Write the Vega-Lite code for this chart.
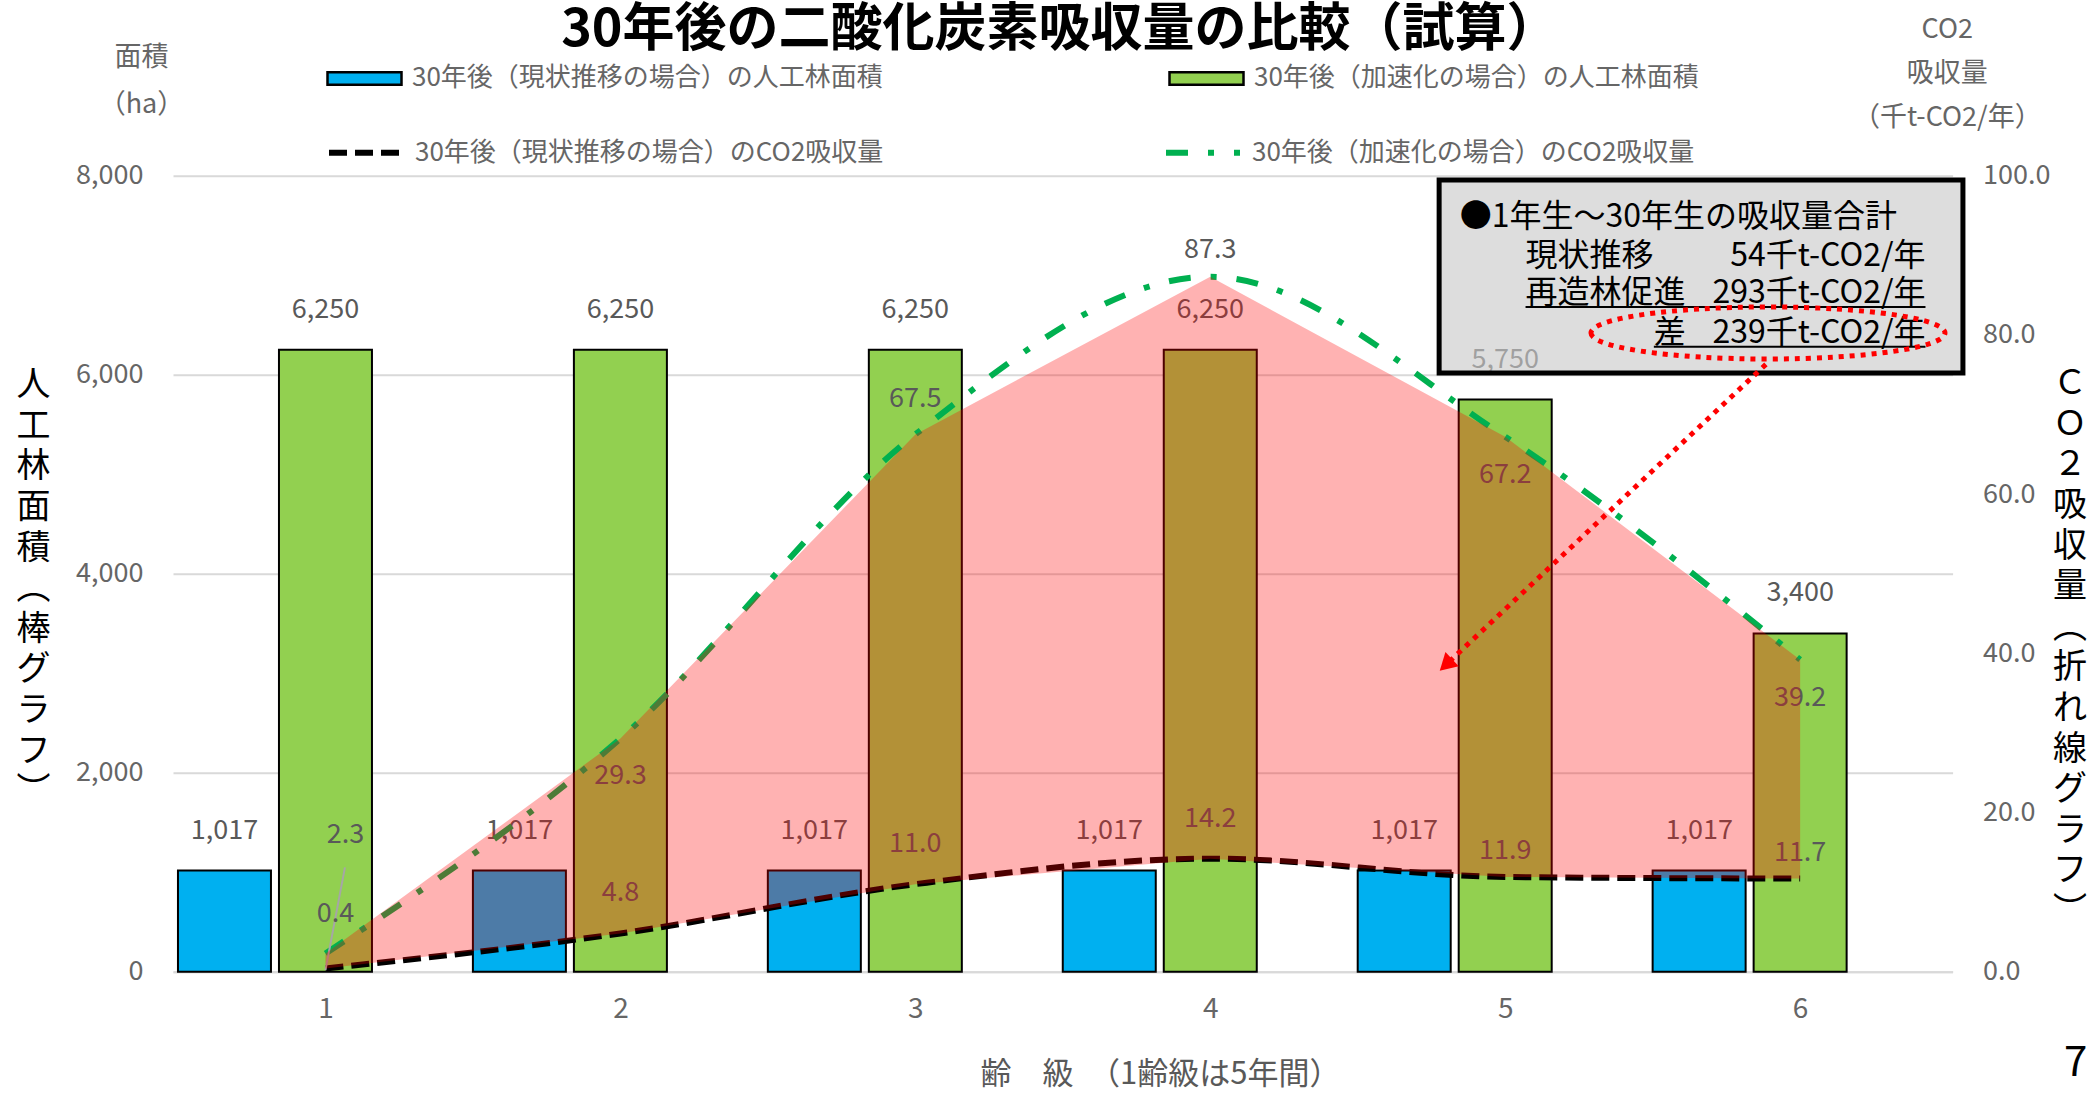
{
  "$schema": "https://vega.github.io/schema/vega-lite/v6.json",
  "width": 1779.6,
  "height": 796,
  "autosize": "none",
  "padding": {"left": 173, "top": 175.7, "right": 141.4, "bottom": 123.3},
  "datasets": {
    "ha": [
      {"cls": 1, "series": "30年後（現状推移の場合）の人工林面積", "ha": 1017},
      {"cls": 2, "series": "30年後（現状推移の場合）の人工林面積", "ha": 1017},
      {"cls": 3, "series": "30年後（現状推移の場合）の人工林面積", "ha": 1017},
      {"cls": 4, "series": "30年後（現状推移の場合）の人工林面積", "ha": 1017},
      {"cls": 5, "series": "30年後（現状推移の場合）の人工林面積", "ha": 1017},
      {"cls": 6, "series": "30年後（現状推移の場合）の人工林面積", "ha": 1017},
      {"cls": 1, "series": "30年後（加速化の場合）の人工林面積", "ha": 6250},
      {"cls": 2, "series": "30年後（加速化の場合）の人工林面積", "ha": 6250},
      {"cls": 3, "series": "30年後（加速化の場合）の人工林面積", "ha": 6250},
      {"cls": 4, "series": "30年後（加速化の場合）の人工林面積", "ha": 6250},
      {"cls": 5, "series": "30年後（加速化の場合）の人工林面積", "ha": 5750},
      {"cls": 6, "series": "30年後（加速化の場合）の人工林面積", "ha": 3400}
    ],
    "co2": [
      {"cls": 1, "cur": 0.4, "acc": 2.3},
      {"cls": 2, "cur": 4.8, "acc": 29.3},
      {"cls": 3, "cur": 11.0, "acc": 67.5},
      {"cls": 4, "cur": 14.2, "acc": 87.3},
      {"cls": 5, "cur": 11.9, "acc": 67.2},
      {"cls": 6, "cur": 11.7, "acc": 39.2}
    ],
    "one": [{}]
  },
  "layer": [
    {
      "layer": [
        {
          "data": {"name": "ha"},
          "transform": [{"filter": "datum.series === '30年後（現状推移の場合）の人工林面積'"}],
          "mark": {"type": "bar", "width": 93, "xOffset": -101, "stroke": "#000000", "strokeWidth": 2},
          "encoding": {
            "x": {
              "field": "cls", "type": "quantitative",
              "scale": {"domain": [0.5, 6.5], "nice": false, "zero": false},
              "axis": {
                "values": [1, 2, 3, 4, 5, 6], "format": "d",
                "labelFontSize": 28, "labelColor": "#666666", "labelPadding": 24,
                "domain": true, "domainColor": "#D9D9D9", "domainWidth": 2,
                "ticks": false, "grid": false,
                "title": "齢　級　（1齢級は5年間）",
                "titleFontSize": 31, "titleColor": "#595959", "titleFontWeight": "normal",
                "titleX": 987, "titleY": 103, "titleAlign": "center", "titleBaseline": "middle"
              }
            },
            "y": {
              "field": "ha", "type": "quantitative",
              "scale": {"domain": [0, 8000], "nice": false},
              "axis": {
                "orient": "left", "values": [0, 2000, 4000, 6000, 8000], "format": ",.0f",
                "grid": true, "gridColor": "#D9D9D9", "gridWidth": 2,
                "domain": false, "ticks": false,
                "labelFontSize": 27, "labelColor": "#666666", "labelPadding": 30,
                "title": ["人", "工", "林", "面", "積", "︵", "棒", "グ", "ラ", "フ", "︶"],
                "titleAngle": 0, "titleFontSize": 34, "titleLineHeight": 40.6,
                "titleColor": "#000000", "titleFontWeight": "normal",
                "titleX": -140, "titleY": 210, "titleAlign": "center", "titleBaseline": "middle"
              }
            },
            "fill": {
              "field": "series", "type": "nominal",
              "scale": {
                "domain": ["30年後（現状推移の場合）の人工林面積", "30年後（加速化の場合）の人工林面積"],
                "range": ["#00B0F0", "#92D050"]
              },
              "legend": {
                "orient": "none", "legendX": 153, "legendY": -136,
                "direction": "horizontal", "columns": 2, "columnPadding": 281,
                "symbolType": "M-1,-0.17H1V0.17H-1Z", "symbolSize": 5476,
                "symbolStrokeColor": "#000000", "symbolStrokeWidth": 2.5,
                "labelFontSize": 26, "labelColor": "#666666", "labelOffset": 9,
                "labelLimit": 800, "title": null, "padding": 0
              }
            }
          }
        },
        {
          "data": {"name": "ha"},
          "transform": [{"filter": "datum.series === '30年後（加速化の場合）の人工林面積'"}],
          "mark": {"type": "bar", "width": 93, "stroke": "#000000", "strokeWidth": 2},
          "encoding": {
            "x": {"field": "cls", "type": "quantitative"},
            "y": {"field": "ha", "type": "quantitative"},
            "fill": {"field": "series", "type": "nominal"}
          }
        },
        {
          "data": {"name": "ha"},
          "transform": [{"filter": "datum.series === '30年後（現状推移の場合）の人工林面積'"}],
          "mark": {"type": "text", "xOffset": -101, "dy": -40, "fontSize": 27, "color": "#595959", "baseline": "middle"},
          "encoding": {
            "x": {"field": "cls", "type": "quantitative"},
            "y": {"field": "ha", "type": "quantitative"},
            "text": {"field": "ha", "type": "quantitative", "format": ","}
          }
        },
        {
          "data": {"name": "ha"},
          "transform": [{"filter": "datum.series === '30年後（加速化の場合）の人工林面積'"}],
          "mark": {"type": "text", "dy": -40, "fontSize": 27, "color": "#595959", "baseline": "middle"},
          "encoding": {
            "x": {"field": "cls", "type": "quantitative"},
            "y": {"field": "ha", "type": "quantitative"},
            "text": {"field": "ha", "type": "quantitative", "format": ","}
          }
        },
        {
          "data": {"name": "one"},
          "mark": {"type": "text", "text": ["面積", "（ha）"], "lineHeight": 47, "fontSize": 27, "color": "#666666", "align": "center", "baseline": "middle"},
          "encoding": {
            "x": {"datum": 0.376, "type": "quantitative"},
            "y": {"datum": 9183, "type": "quantitative"}
          }
        }
      ]
    },
    {
      "layer": [
        {
          "data": {"name": "co2"},
          "mark": {"type": "line", "interpolate": "monotone", "strokeWidth": 6, "strokeCap": "butt"},
          "encoding": {
            "x": {"field": "cls", "type": "quantitative"},
            "y": {
              "field": "cur", "type": "quantitative",
              "scale": {"domain": [0, 100], "nice": false},
              "axis": {
                "orient": "right", "values": [0, 20, 40, 60, 80, 100], "format": ".1f",
                "grid": false, "domain": false, "ticks": false,
                "labelFontSize": 27, "labelColor": "#666666", "labelPadding": 30,
                "title": ["Ｃ", "Ｏ", "２", "吸", "収", "量", "︵", "折", "れ", "線", "グ", "ラ", "フ", "︶"],
                "titleAngle": 0, "titleFontSize": 34, "titleLineHeight": 40.6,
                "titleColor": "#000000", "titleFontWeight": "normal",
                "titleX": 117, "titleY": 208, "titleAlign": "center", "titleBaseline": "middle"
              }
            },
            "stroke": {
              "datum": "30年後（現状推移の場合）のCO2吸収量", "type": "nominal",
              "scale": {
                "domain": ["30年後（現状推移の場合）のCO2吸収量", "30年後（加速化の場合）のCO2吸収量"],
                "range": ["#000000", "#00B050"]
              },
              "legend": {
                "orient": "none", "legendX": 153, "legendY": -63,
                "direction": "horizontal", "columns": 2, "columnPadding": 270,
                "symbolType": "stroke", "symbolSize": 5476, "symbolStrokeWidth": 6,
                "labelFontSize": 26, "labelColor": "#666666", "labelOffset": 9,
                "labelLimit": 800, "title": null, "padding": 0
              }
            },
            "strokeDash": {
              "datum": "30年後（現状推移の場合）のCO2吸収量", "type": "nominal",
              "scale": {
                "domain": ["30年後（現状推移の場合）のCO2吸収量", "30年後（加速化の場合）のCO2吸収量"],
                "range": [[18, 8], [22, 20, 6, 20]]
              },
              "legend": {
                "orient": "none", "legendX": 153, "legendY": -63,
                "direction": "horizontal", "columns": 2, "columnPadding": 270,
                "symbolType": "stroke", "symbolSize": 5476, "symbolStrokeWidth": 6,
                "labelFontSize": 26, "labelColor": "#666666", "labelOffset": 9,
                "labelLimit": 800, "title": null, "padding": 0
              }
            }
          }
        },
        {
          "data": {"name": "co2"},
          "mark": {"type": "line", "interpolate": "monotone", "strokeWidth": 6, "strokeCap": "butt"},
          "encoding": {
            "x": {"field": "cls", "type": "quantitative"},
            "y": {"field": "acc", "type": "quantitative"},
            "stroke": {"datum": "30年後（加速化の場合）のCO2吸収量", "type": "nominal"},
            "strokeDash": {"datum": "30年後（加速化の場合）のCO2吸収量", "type": "nominal"}
          }
        },
        {
          "data": {"name": "one"},
          "mark": {"type": "rule", "color": "#A6A6A6", "strokeWidth": 2},
          "encoding": {
            "x": {"datum": 1.0, "type": "quantitative"},
            "y": {"datum": 0.2, "type": "quantitative"},
            "x2": {"datum": 1.066},
            "y2": {"datum": 13.1}
          }
        },
        {
          "data": {"name": "co2"},
          "transform": [{"filter": "datum.cls === 1"}],
          "mark": {"type": "text", "dx": 10, "dy": -55, "fontSize": 27, "color": "#595959", "baseline": "middle"},
          "encoding": {
            "x": {"field": "cls", "type": "quantitative"},
            "y": {"field": "cur", "type": "quantitative"},
            "text": {"field": "cur", "type": "quantitative", "format": ".1f"}
          }
        },
        {
          "data": {"name": "co2"},
          "transform": [{"filter": "datum.cls >= 2 && datum.cls <= 4"}],
          "mark": {"type": "text", "dy": -40, "fontSize": 27, "color": "#595959", "baseline": "middle"},
          "encoding": {
            "x": {"field": "cls", "type": "quantitative"},
            "y": {"field": "cur", "type": "quantitative"},
            "text": {"field": "cur", "type": "quantitative", "format": ".1f"}
          }
        },
        {
          "data": {"name": "co2"},
          "transform": [{"filter": "datum.cls >= 5"}],
          "mark": {"type": "text", "dy": -26, "fontSize": 27, "color": "#595959", "baseline": "middle"},
          "encoding": {
            "x": {"field": "cls", "type": "quantitative"},
            "y": {"field": "cur", "type": "quantitative"},
            "text": {"field": "cur", "type": "quantitative", "format": ".1f"}
          }
        },
        {
          "data": {"name": "co2"},
          "transform": [{"filter": "datum.cls === 1"}],
          "mark": {"type": "text", "dx": 20, "dy": -118, "fontSize": 27, "color": "#595959", "baseline": "middle"},
          "encoding": {
            "x": {"field": "cls", "type": "quantitative"},
            "y": {"field": "acc", "type": "quantitative"},
            "text": {"field": "acc", "type": "quantitative", "format": ".1f"}
          }
        },
        {
          "data": {"name": "co2"},
          "transform": [{"filter": "datum.cls === 3"}],
          "mark": {"type": "text", "dy": -35, "fontSize": 27, "color": "#595959", "baseline": "middle"},
          "encoding": {
            "x": {"field": "cls", "type": "quantitative"},
            "y": {"field": "acc", "type": "quantitative"},
            "text": {"field": "acc", "type": "quantitative", "format": ".1f"}
          }
        },
        {
          "data": {"name": "co2"},
          "transform": [{"filter": "datum.cls === 4"}],
          "mark": {"type": "text", "dy": -27, "fontSize": 27, "color": "#595959", "baseline": "middle"},
          "encoding": {
            "x": {"field": "cls", "type": "quantitative"},
            "y": {"field": "acc", "type": "quantitative"},
            "text": {"field": "acc", "type": "quantitative", "format": ".1f"}
          }
        },
        {
          "data": {"name": "co2"},
          "transform": [{"filter": "datum.cls === 2 || datum.cls >= 5"}],
          "mark": {"type": "text", "dy": 38, "fontSize": 27, "color": "#595959", "baseline": "middle"},
          "encoding": {
            "x": {"field": "cls", "type": "quantitative"},
            "y": {"field": "acc", "type": "quantitative"},
            "text": {"field": "acc", "type": "quantitative", "format": ".1f"}
          }
        },
        {
          "data": {"name": "co2"},
          "mark": {"type": "area", "interpolate": "linear", "fill": "#FF0000", "fillOpacity": 0.3},
          "encoding": {
            "x": {"field": "cls", "type": "quantitative"},
            "y": {"field": "acc", "type": "quantitative"},
            "y2": {"field": "cur"}
          }
        },
        {
          "data": {"name": "one"},
          "mark": {"type": "rect", "fill": "#C9C9C9", "fillOpacity": 0.63, "stroke": "#000000", "strokeWidth": 5},
          "encoding": {
            "x": {"datum": 4.776, "type": "quantitative"},
            "x2": {"datum": 6.552},
            "y": {"datum": 99.46, "type": "quantitative"},
            "y2": {"datum": 75.21}
          }
        },
        {
          "data": {"name": "one"},
          "mark": {"type": "text", "text": "●1年生～30年生の吸収量合計", "fontSize": 32, "color": "#000000", "align": "left", "baseline": "middle"},
          "encoding": {
            "x": {"datum": 4.846, "type": "quantitative"},
            "y": {"datum": 94.82, "type": "quantitative"}
          }
        },
        {
          "data": {"name": "one"},
          "mark": {"type": "text", "text": "現状推移", "fontSize": 32, "color": "#000000", "align": "left", "baseline": "middle"},
          "encoding": {
            "x": {"datum": 5.069, "type": "quantitative"},
            "y": {"datum": 89.89, "type": "quantitative"}
          }
        },
        {
          "data": {"name": "one"},
          "mark": {"type": "text", "text": "54千t-CO2/年", "fontSize": 32, "color": "#000000", "align": "right", "baseline": "middle"},
          "encoding": {
            "x": {"datum": 6.425, "type": "quantitative"},
            "y": {"datum": 89.89, "type": "quantitative"}
          }
        },
        {
          "data": {"name": "one"},
          "mark": {"type": "text", "text": "再造林促進", "fontSize": 32, "color": "#000000", "align": "left", "baseline": "middle"},
          "encoding": {
            "x": {"datum": 5.069, "type": "quantitative"},
            "y": {"datum": 85.24, "type": "quantitative"}
          }
        },
        {
          "data": {"name": "one"},
          "mark": {"type": "text", "text": "293千t-CO2/年", "fontSize": 32, "color": "#000000", "align": "right", "baseline": "middle"},
          "encoding": {
            "x": {"datum": 6.425, "type": "quantitative"},
            "y": {"datum": 85.24, "type": "quantitative"}
          }
        },
        {
          "data": {"name": "one"},
          "mark": {"type": "text", "text": "差", "fontSize": 32, "color": "#000000", "align": "left", "baseline": "middle"},
          "encoding": {
            "x": {"datum": 5.504, "type": "quantitative"},
            "y": {"datum": 80.22, "type": "quantitative"}
          }
        },
        {
          "data": {"name": "one"},
          "mark": {"type": "text", "text": "239千t-CO2/年", "fontSize": 32, "color": "#000000", "align": "right", "baseline": "middle"},
          "encoding": {
            "x": {"datum": 6.425, "type": "quantitative"},
            "y": {"datum": 80.22, "type": "quantitative"}
          }
        },
        {
          "data": {"name": "one"},
          "mark": {"type": "rule", "color": "#000000", "strokeWidth": 2},
          "encoding": {
            "x": {"datum": 5.069, "type": "quantitative"},
            "x2": {"datum": 6.425},
            "y": {"datum": 83.5, "type": "quantitative"}
          }
        },
        {
          "data": {"name": "one"},
          "mark": {"type": "rule", "color": "#000000", "strokeWidth": 2},
          "encoding": {
            "x": {"datum": 5.504, "type": "quantitative"},
            "x2": {"datum": 6.425},
            "y": {"datum": 78.5, "type": "quantitative"}
          }
        },
        {
          "data": {"name": "one"},
          "mark": {"type": "point", "shape": "M-1,0A1,0.147,0,1,0,1,0A1,0.147,0,1,0,-1,0Z", "size": 125316, "filled": false, "stroke": "#FF0000", "strokeWidth": 5, "strokeDash": [5, 6], "opacity": 1},
          "encoding": {
            "x": {"datum": 5.891, "type": "quantitative"},
            "y": {"datum": 80.24, "type": "quantitative"}
          }
        },
        {
          "data": {"name": "one"},
          "mark": {"type": "rule", "color": "#FF0000", "strokeWidth": 5, "strokeDash": [5, 6]},
          "encoding": {
            "x": {"datum": 5.884, "type": "quantitative"},
            "y": {"datum": 76.3, "type": "quantitative"},
            "x2": {"datum": 4.813},
            "y2": {"datum": 39.04}
          }
        },
        {
          "data": {"name": "one"},
          "mark": {"type": "point", "shape": "triangle-up", "size": 380, "filled": true, "fill": "#FF0000", "opacity": 1, "angle": 227},
          "encoding": {
            "x": {"datum": 4.799, "type": "quantitative"},
            "y": {"datum": 38.53, "type": "quantitative"}
          }
        },
        {
          "data": {"name": "one"},
          "mark": {"type": "text", "text": ["CO2", "吸収量", "（千t-CO2/年）"], "lineHeight": 44, "fontSize": 27, "color": "#666666", "align": "center", "baseline": "middle"},
          "encoding": {
            "x": {"datum": 6.499, "type": "quantitative"},
            "y": {"datum": 118.3, "type": "quantitative"}
          }
        },
        {
          "data": {"name": "one"},
          "mark": {"type": "text", "text": "30年後の二酸化炭素吸収量の比較（試算）", "fontSize": 52, "fontWeight": "bold", "color": "#000000", "align": "center", "baseline": "middle"},
          "encoding": {
            "x": {"datum": 3.49, "type": "quantitative"},
            "y": {"datum": 118.3, "type": "quantitative"}
          }
        },
        {
          "data": {"name": "one"},
          "mark": {"type": "text", "text": "7", "fontSize": 42, "color": "#000000", "align": "center", "baseline": "middle"},
          "encoding": {
            "x": {"datum": 6.934, "type": "quantitative"},
            "y": {"datum": -11.5, "type": "quantitative"}
          }
        }
      ]
    }
  ],
  "resolve": {"scale": {"y": "independent"}},
  "config": {
    "view": {"stroke": null},
    "font": "Noto Sans CJK JP",
    "text": {"font": "Noto Sans CJK JP"},
    "axis": {"labelFont": "Noto Sans CJK JP", "titleFont": "Noto Sans CJK JP"},
    "legend": {"labelFont": "Noto Sans CJK JP", "titleFont": "Noto Sans CJK JP"}
  }
}
